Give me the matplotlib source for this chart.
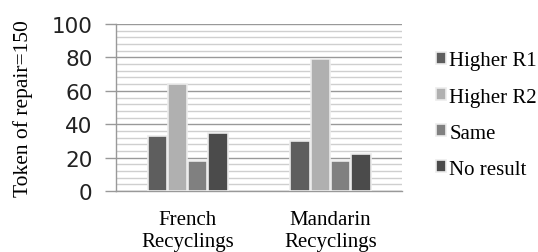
import matplotlib
matplotlib.use("Agg")
import matplotlib.pyplot as plt
import numpy as np
from matplotlib.ticker import MultipleLocator

categories = ["French\nRecyclings", "Mandarin\nRecyclings"]
series = ["Higher R1", "Higher R2", "Same", "No result"]
higher_r1 = [33, 30]
higher_r2 = [64, 79]
same = [18, 18]
no_result = [35, 22]
colors = ["#5e5e5e", "#b0b0b0", "#808080", "#4b4b4b"]

fig = plt.figure(figsize=(5.38, 2.53), dpi=100)
ax = fig.add_axes([0.216, 0.241, 0.531, 0.660])

x = np.arange(len(categories))
w = 0.135
offsets = [-1.5, -0.5, 0.5, 1.5]
for vals, name, c, off in zip([higher_r1, higher_r2, same, no_result], series, colors, offsets):
    ax.bar(x + off * (w + 0.007), vals, w, color=c, edgecolor="#ececec",
           linewidth=1.2, label=name, zorder=3)

ax.set_xlim(-0.5, 1.5)
ax.set_ylim(0, 100)
ax.yaxis.set_major_locator(MultipleLocator(20))
ax.yaxis.set_minor_locator(MultipleLocator(4))
ax.grid(which="major", axis="y", color="#999999", linewidth=1.0, zorder=0)
ax.grid(which="minor", axis="y", color="#cfcfcf", linewidth=1.0, zorder=0)

for s in ["top", "right", "bottom"]:
    ax.spines[s].set_visible(False)
ax.spines["left"].set_color("#999999")
ax.spines["left"].set_linewidth(1.0)
ax.axhline(0, color="#999999", linewidth=1.0, zorder=2, clip_on=False)

ax.tick_params(axis="y", which="major", length=8, color="#999999", width=1.0,
               labelsize=15.5, pad=9)
ax.tick_params(axis="y", which="minor", length=0)
ax.tick_params(axis="x", length=0, pad=14)
ax.set_xticks(x)
ax.set_xticklabels(categories, fontfamily="Liberation Serif", fontsize=15,
                   linespacing=1.2)
for t in ax.get_yticklabels():
    t.set_color("#222222")

ax.set_ylabel("Token of repair=150", fontfamily="Liberation Serif", fontsize=15.5)
ax.yaxis.set_label_coords(-0.29, 0.5)

leg = ax.legend(loc="center left", bbox_to_anchor=(1.09, 0.455), frameon=False,
                prop={"family": "Liberation Serif", "size": 15},
                handlelength=0.5, handleheight=0.5, handletextpad=0.15,
                labelspacing=0.82, borderaxespad=0)

fig.savefig("out.png", dpi=100)
